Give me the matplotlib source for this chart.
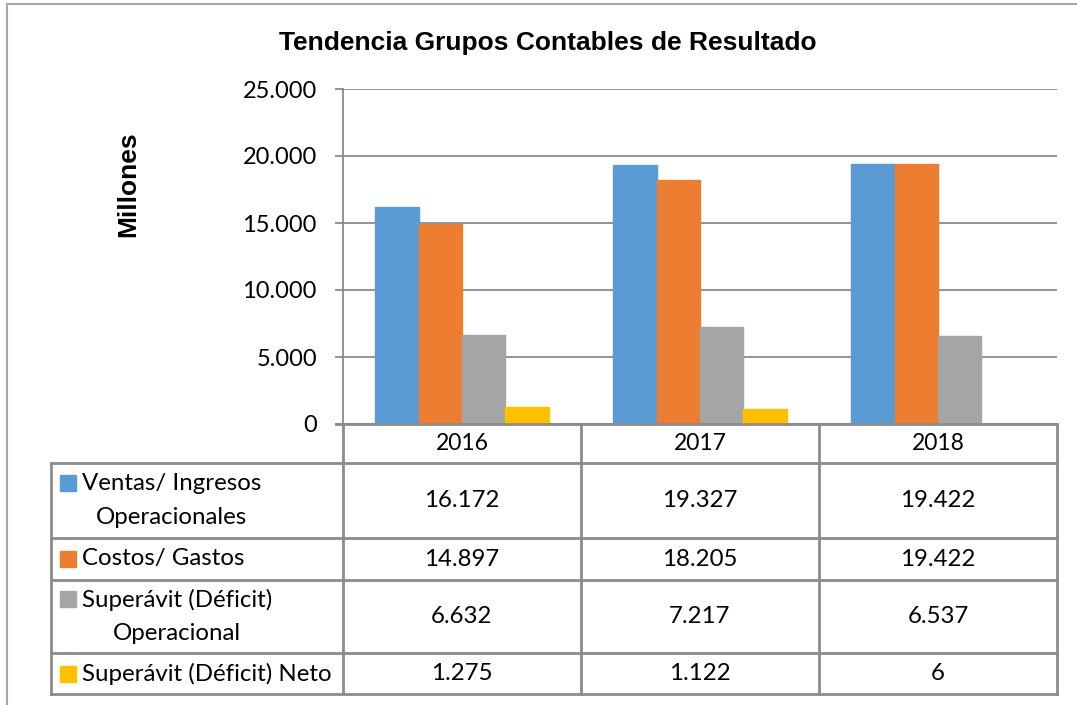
import numpy as np
import matplotlib.pyplot as plt
from matplotlib.patches import Rectangle
from matplotlib.ticker import FuncFormatter

years = ['2016', '2017', '2018']
series = ['Ventas/ Ingresos\nOperacionales', 'Costos/ Gastos',
          'Superávit (Déficit)\nOperacional', 'Superávit (Déficit) Neto']
ventas = [16172, 19327, 19422]
costos = [14897, 18205, 19422]
sup_oper = [6632, 7217, 6537]
sup_neto = [1275, 1122, 6]
colors = ['#5B9BD5', '#ED7D31', '#A5A5A5', '#FFC000']
yticks = [0, 5000, 10000, 15000, 20000, 25000]

values = [ventas, costos, sup_oper, sup_neto]

def miles(v, pos=None):
    return f'{int(v):,}'.replace(',', '.')

plt.rcParams['font.family'] = ['Lato', 'DejaVu Sans']

W, H = 1077, 705
fig = plt.figure(figsize=(W / 100, H / 100), dpi=100)

def fx(px):
    return px / W

def fy(py):
    return 1 - py / H

grid_c = '#8a8a8a'
line_c = '#8c8c8c'

# plot area
x0, x1 = 343, 1057
y_top, y_zero = 89, 424
ax = fig.add_axes([fx(x0), fy(y_zero), fx(x1) - fx(x0), fy(y_top) - fy(y_zero)])
x = np.arange(len(years))
w = 0.182
for i, (vals, c) in enumerate(zip(values, colors)):
    ax.bar(x + (i - 1.5) * w, vals, width=w, color=c, edgecolor=c, linewidth=1.0)

ax.set_xlim(-0.5, len(years) - 0.5)
ax.set_ylim(0, 25000)
ax.set_yticks(yticks)
ax.yaxis.set_major_formatter(FuncFormatter(miles))
ax.set_xticks([])
ax.set_axisbelow(True)
ax.yaxis.grid(True, color=grid_c, linewidth=1.3)
for s in ['top', 'right', 'bottom']:
    ax.spines[s].set_visible(False)
ax.spines['left'].set_color(grid_c)
ax.spines['left'].set_linewidth(1.3)
ax.tick_params(axis='y', length=5.8, width=1.3, color=grid_c, pad=13, labelsize=17)

fig.text(fx(548), fy(43), 'Tendencia Grupos Contables de Resultado', ha='center', va='center',
         fontsize=19, fontweight='bold', family='Liberation Sans')
fig.text(fx(128), fy(184), 'Millones', rotation=90, ha='center', va='center',
         fontsize=19, fontweight='bold', family='Liberation Sans')

# overlay for frame and data table
ov = fig.add_axes([0, 0, 1, 1])
ov.set_xlim(0, W)
ov.set_ylim(H, 0)
ov.axis('off')

ov.plot([7, 7], [4, H], color='#a6a6a6', lw=1.5)
ov.plot([7, W], [4, 4], color='#a6a6a6', lw=1.5)

col_edges = [51] + list(np.linspace(x0, x1, len(years) + 1))
row_edges = [424, 463, 538, 580, 653, 694]

tl = 2.0
ov.plot([x0 - 7, x1], [row_edges[0]] * 2, color=line_c, lw=tl)
for yy in row_edges[1:]:
    ov.plot([col_edges[0], x1], [yy, yy], color=line_c, lw=tl)
ov.plot([col_edges[0]] * 2, [row_edges[1], row_edges[-1]], color=line_c, lw=tl)
for xx in col_edges[1:]:
    ov.plot([xx, xx], [row_edges[0], row_edges[-1]], color=line_c, lw=tl)

centers = [(col_edges[k] + col_edges[k + 1]) / 2 for k in range(1, len(col_edges) - 1)]
yc_head = (row_edges[0] + row_edges[1]) / 2
for cx, yr in zip(centers, years):
    ov.text(cx, yc_head, yr, ha='center', va='center', fontsize=16.5)

line_h = 35
for r, (name, vals, c) in enumerate(zip(series, values, colors)):
    yc = (row_edges[r + 1] + row_edges[r + 2]) / 2
    nl = name.count('\n') + 1
    ysq = yc - (nl - 1) * line_h / 2
    ov.add_patch(Rectangle((60, ysq - 8), 16, 16, color=c))
    ov.text(82, yc, name, ha='left', va='center', multialignment='center',
            fontsize=17.3, linespacing=1.75)
    for cx, v in zip(centers, vals):
        ov.text(cx, yc, miles(v), ha='center', va='center', fontsize=17.3)

fig.savefig('out.png', dpi=100)
